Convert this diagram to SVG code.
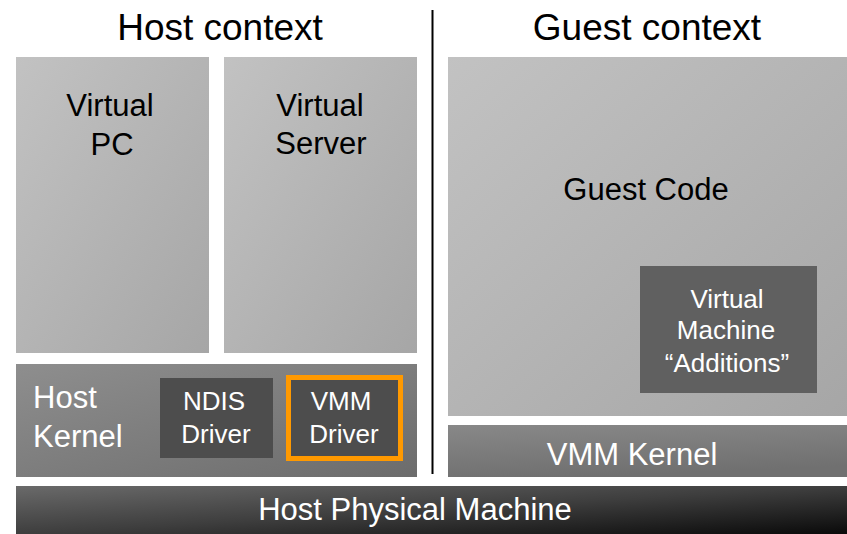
<svg xmlns="http://www.w3.org/2000/svg" width="847" height="534" viewBox="0 0 847 534">
<style>
text{font-family:"Liberation Sans",Arial,sans-serif;text-anchor:middle}
.dk{fill:#000}
.wt{fill:#fff}
.t37{font-size:37px}
.t31{font-size:31px}
.t26{font-size:26px}
</style>
<defs>
<linearGradient id="gLight" x1="0" y1="0" x2="1" y2="1">
<stop offset="0" stop-color="#c2c2c2"/><stop offset="1" stop-color="#a6a6a6"/>
</linearGradient>
<linearGradient id="gKernel" x1="0" y1="0" x2="1" y2="1">
<stop offset="0" stop-color="#8e8e8e"/><stop offset="1" stop-color="#6c6c6c"/>
</linearGradient>
<linearGradient id="gVmm" x1="0" y1="0" x2="0.3" y2="1">
<stop offset="0" stop-color="#888"/><stop offset="1" stop-color="#707070"/>
</linearGradient>
<linearGradient id="gPhys" x1="0" y1="0" x2="1" y2="1">
<stop offset="0" stop-color="#6a6a6a"/><stop offset="0.5" stop-color="#3e3e3e"/><stop offset="1" stop-color="#0a0a0a"/>
</linearGradient>
</defs>
<rect width="847" height="534" fill="#fff"/>
<text class="dk t37" x="220" y="40">Host context</text>
<text class="dk t37" x="647" y="40">Guest context</text>
<g id="connectors">
<line x1="432.5" y1="10" x2="432.5" y2="474" stroke="#000" stroke-width="2"/>
</g>
<g id="virtual-pc">
<rect x="16" y="57" width="193" height="296" fill="url(#gLight)"/>
<text class="dk t31" x="110" y="116">Virtual</text>
<text class="dk t31" x="112" y="155">PC</text>
</g>
<g id="virtual-server">
<rect x="224" y="57" width="193" height="296" fill="url(#gLight)"/>
<text class="dk t31" x="320" y="116">Virtual</text>
<text class="dk t31" x="321" y="154">Server</text>
</g>
<g id="host-kernel">
<rect x="16" y="364" width="401" height="113" fill="url(#gKernel)"/>
<text class="wt t31" x="33" y="408" style="text-anchor:start">Host</text>
<text class="wt t31" x="33" y="447" style="text-anchor:start">Kernel</text>
</g>
<g id="ndis-driver">
<rect x="160" y="378" width="113" height="80" fill="#4d4d4d"/>
<text class="wt t26" x="214" y="410">NDIS</text>
<text class="wt t26" x="216" y="443">Driver</text>
</g>
<g id="vmm-driver">
<rect x="288.5" y="377.5" width="112" height="81" fill="#4d4d4d" stroke="#ff9900" stroke-width="5"/>
<text class="wt t26" x="341" y="410">VMM</text>
<text class="wt t26" x="344" y="443">Driver</text>
</g>
<g id="guest-code">
<rect x="448" y="57" width="399" height="359" fill="url(#gLight)"/>
<text class="dk t31" x="646" y="200">Guest Code</text>
</g>
<g id="vm-additions">
<rect x="640" y="266" width="177" height="127" fill="#606060"/>
<text class="wt t26" x="727" y="308">Virtual</text>
<text class="wt t26" x="726" y="339">Machine</text>
<text class="wt t26" x="727" y="372">“Additions”</text>
</g>
<g id="vmm-kernel">
<rect x="448" y="425" width="399" height="52" fill="url(#gVmm)"/>
<text class="wt t31" x="632" y="465">VMM Kernel</text>
</g>
<g id="host-physical-machine">
<rect x="16" y="486" width="831" height="48" fill="url(#gPhys)"/>
<text class="wt t31" x="415" y="520">Host Physical Machine</text>
</g>
</svg>
